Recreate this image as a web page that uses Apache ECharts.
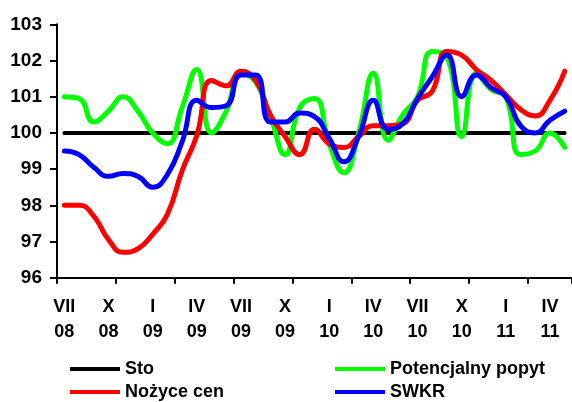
<!DOCTYPE html>
<html>
<head>
<meta charset="utf-8">
<script src="https://cdn.jsdelivr.net/npm/echarts@6/dist/echarts.min.js"></script>
<style>
html,body{margin:0;padding:0;background:#fff;}
#chart{width:572px;height:402px;}
</style>
</head>
<body>
<div id="chart"></div>
<script>
const categories = [
  'VII\n08','VIII\n08','IX\n08','X\n08','XI\n08','XII\n08',
  'I\n09','II\n09','III\n09','IV\n09','V\n09','VI\n09',
  'VII\n09','VIII\n09','IX\n09','X\n09','XI\n09','XII\n09',
  'I\n10','II\n10','III\n10','IV\n10','V\n10','VI\n10',
  'VII\n10','VIII\n10','IX\n10','X\n10','XI\n10','XII\n10',
  'I\n11','II\n11','III\n11','IV\n11','V\n11'
];
const sto = [100,100,100,100,100,100,100,100,100,100,100,100,100,100,100,100,100,100,100,100,100,100,100,100,100,100,100,100,100,100,100,100,100,100,100];
const potencjalnyPopyt = [101.0,100.95,100.3,100.6,101.0,100.6,100.0,99.7,100.7,101.75,100.0,100.6,101.65,101.4,100.45,99.4,100.7,100.95,99.7,98.9,100.0,101.65,99.8,100.5,101.0,102.25,102.1,99.9,101.65,101.2,101.0,99.4,99.5,100.0,99.6];
const nozyceCen = [98.0,98.0,97.7,97.05,96.7,96.8,97.2,97.75,98.95,99.93,101.45,101.3,101.7,101.45,100.5,99.9,99.4,100.1,99.7,99.6,99.9,100.2,100.2,100.25,100.9,101.15,102.25,102.15,101.75,101.45,101.05,100.65,100.47,100.9,101.7];
const swkr = [99.5,99.4,99.05,98.8,98.88,98.8,98.5,98.85,99.75,100.9,100.7,100.75,101.6,101.6,100.3,100.3,100.55,100.45,99.85,99.2,99.9,100.9,100.1,100.25,100.95,101.55,102.15,101.0,101.6,101.25,101.0,100.2,100.0,100.35,100.6];
const yTicks = {min: 96, max: 103, interval: 1};

const FONT = '"Liberation Sans", Arial, sans-serif';
const chart = echarts.init(document.getElementById('chart'), null, {renderer: 'canvas'});
function lineSeries(name, data, color, width, smooth) {
  return {
    name: name, type: 'line', data: data, smooth: smooth,
    symbol: 'none', showSymbol: false,
    lineStyle: {color: color, width: width, cap: 'round', join: 'round'},
    itemStyle: {color: color},
    emphasis: {disabled: true}, animation: false
  };
}
const legendText = {fontFamily: FONT, fontWeight: 'bold', fontSize: 18, color: '#000'};
function legendItem(name, left, top) {
  return {data: [name], orient: 'horizontal', left: left, top: top, itemWidth: 50, itemHeight: 4,
    itemGap: 0, padding: 0, icon: 'rect', textStyle: legendText, selectedMode: false};
}
chart.setOption({
  backgroundColor: '#fff',
  animation: false,
  grid: {left: 57, right: -3, top: 24.3, bottom: 124.3, containLabel: false},
  legend: [
    legendItem('Sto', 70, 360),
    legendItem('Nożyce cen', 70, 383),
    legendItem('Potencjalny popyt', 335, 360),
    legendItem('SWKR', 335, 383)
  ],
  xAxis: {
    type: 'category', data: categories, boundaryGap: true,
    axisLine: {lineStyle: {color: '#000', width: 2}},
    axisTick: {show: true, interval: 3, length: 6, lineStyle: {color: '#000', width: 2}},
    axisLabel: {interval: 2, margin: 17, fontFamily: FONT, fontWeight: 'bold', fontSize: 18, lineHeight: 25, color: '#000'},
    splitLine: {show: false}
  },
  yAxis: {
    type: 'value', min: yTicks.min, max: yTicks.max, interval: yTicks.interval,
    axisLine: {show: true, lineStyle: {color: '#000', width: 2}},
    axisTick: {show: true, length: 7, lineStyle: {color: '#000', width: 2}},
    axisLabel: {margin: 15, fontFamily: FONT, fontWeight: 'bold', fontSize: 19, color: '#000'},
    splitLine: {show: false}
  },
  series: [
    lineSeries('Sto', sto, '#000000', 4, false),
    lineSeries('Potencjalny popyt', potencjalnyPopyt, '#00ff00', 5, 0.5),
    lineSeries('Nożyce cen', nozyceCen, '#ff0000', 5, 0.5),
    lineSeries('SWKR', swkr, '#0000ff', 5, 0.5)
  ]
});
</script>
</body>
</html>
